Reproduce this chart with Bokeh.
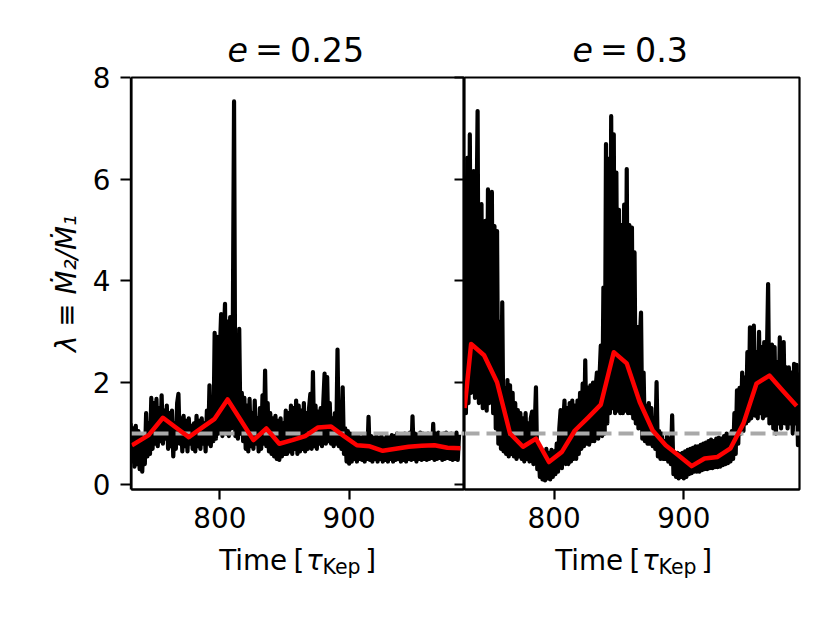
import numpy as np
from bokeh.plotting import figure
from bokeh.models import Range1d, FixedTicker, LinearAxis
from bokeh.layouts import row, column
from bokeh.core.properties import value
from bokeh.embed import file_html
from bokeh.resources import INLINE

# ---------------- data ----------------
panel_e = ["0.25", "0.3"]
x_ticks = [800, 900]
y_ticks = [0, 2, 4, 6, 8]
ref_level = 1.0

# raw accretion-rate ratio, e = 0.25 (one sample per tau_Kep from 731)
time_a = np.arange(731, 986)
lam_a = [1.20, 0.45, 1.10, 0.35, 1.15, 0.40, 1.05, 0.30, 0.95, 0.25,
         0.90, 0.40, 1.40, 0.55, 1.20, 0.60, 1.70, 0.70, 1.60, 0.80,
         1.68, 0.75, 1.50, 0.85, 1.75, 0.80, 1.45, 0.90, 1.55, 0.70,
         1.40, 0.75, 1.45, 0.55, 1.20, 0.70, 1.60, 1.78, 0.80, 1.30,
         0.65, 1.35, 0.75, 1.25, 0.65, 1.30, 0.80, 1.15, 0.70, 1.20,
         0.65, 1.35, 0.75, 1.25, 0.70, 1.30, 0.80, 1.20, 0.65, 1.45,
         0.80, 1.95, 0.75, 1.40, 0.85, 2.98, 0.90, 2.90, 1.00, 2.60,
         3.35, 0.95, 2.80, 3.55, 1.00, 3.20, 0.95, 3.29, 1.10, 2.90,
         7.53, 0.95, 2.70, 0.90, 3.06, 1.00, 1.80, 0.85, 1.70, 0.70,
         1.55, 0.65, 1.68, 0.75, 1.40, 0.70, 1.65, 0.80, 1.30, 0.65,
         1.50, 0.70, 1.75, 0.80, 2.24, 0.75, 1.60, 0.65, 1.40, 0.60,
         1.30, 0.55, 1.35, 0.50, 1.25, 0.48, 1.30, 0.55, 1.20, 0.60,
         1.45, 0.60, 1.40, 0.65, 1.55, 0.60, 1.50, 0.70, 1.65, 0.60,
         1.55, 0.65, 1.45, 0.70, 1.60, 0.65, 1.40, 0.70, 1.50, 1.78,
         0.70, 2.21, 0.75, 1.55, 0.70, 1.43, 0.80, 1.50, 0.75, 1.60,
         2.18, 0.80, 2.11, 0.85, 1.60, 0.80, 1.30, 0.75, 1.40, 0.80,
         2.65, 0.75, 1.30, 0.70, 1.91, 0.60, 1.10, 0.45, 1.05, 0.41,
         1.00, 0.45, 0.98, 0.50, 0.95, 0.45, 0.98, 0.50, 0.92, 0.48,
         0.95, 0.45, 0.95, 0.50, 1.33, 0.48, 0.95, 0.45, 0.92, 0.50,
         0.95, 0.45, 0.92, 0.50, 0.95, 0.45, 0.90, 0.48, 0.95, 0.45,
         0.92, 0.50, 0.97, 0.45, 0.95, 0.48, 1.00, 0.50, 0.95, 0.45,
         0.98, 0.48, 1.00, 0.45, 0.95, 0.50, 1.02, 0.48, 1.34, 0.50,
         1.00, 0.45, 0.98, 0.50, 1.02, 0.48, 1.00, 0.50, 0.98, 0.48,
         1.00, 0.50, 0.98, 0.52, 1.19, 0.48, 1.00, 0.50, 1.02, 0.52,
         0.98, 0.48, 1.00, 0.50, 1.02, 0.52, 0.98, 0.50, 1.00, 0.48,
         0.98, 0.50, 1.02, 0.48, 0.98]

# raw accretion-rate ratio, e = 0.3
time_b = np.arange(731, 990)
lam_b = [5.70, 1.40, 6.42, 1.60, 6.88, 1.80, 5.20, 6.16, 1.70, 4.80,
         7.34, 1.60, 4.90, 5.51, 1.50, 4.60, 5.18, 1.45, 5.80, 1.60,
         4.70, 5.75, 1.40, 5.08, 1.10, 4.98, 0.80, 3.20, 0.70, 3.58,
         0.65, 1.90, 0.60, 2.05, 0.55, 1.95, 0.60, 1.80, 0.55, 1.60,
         0.50, 1.46, 0.55, 1.40, 0.50, 1.30, 0.45, 1.40, 0.50, 1.20,
         0.45, 1.30, 1.43, 0.40, 1.10, 1.91, 0.30, 0.70, 0.15, 0.67,
         0.10, 0.65, 0.08, 0.70, 0.12, 0.62, 0.10, 0.68, 0.15, 0.65,
         0.20, 0.80, 0.25, 1.10, 1.46, 0.32, 1.20, 1.65, 0.40, 1.50,
         0.40, 1.60, 0.45, 1.65, 0.50, 1.55, 0.50, 1.65, 0.60, 1.80,
         0.70, 1.98, 0.75, 2.44, 0.80, 1.90, 0.78, 1.95, 0.85, 2.00,
         0.85, 1.90, 2.20, 0.90, 2.10, 2.73, 0.95, 3.87, 1.00, 6.69,
         1.20, 6.40, 1.40, 7.24, 1.50, 6.88, 1.40, 6.13, 1.45, 5.40,
         1.40, 5.10, 1.40, 5.50, 1.45, 6.20, 1.40, 5.10, 1.40, 5.05,
         1.30, 4.56, 1.20, 3.10, 1.10, 2.80, 3.38, 0.90, 2.20, 0.85,
         1.55, 0.80, 1.60, 0.80, 1.50, 0.75, 1.30, 0.70, 2.01, 0.55,
         1.05, 0.50, 1.00, 0.50, 0.85, 0.50, 0.95, 0.45, 0.90, 0.40,
         1.36, 0.20, 0.60, 0.15, 0.62, 0.12, 0.60, 0.15, 0.62, 0.12,
         0.65, 0.15, 0.68, 0.20, 0.70, 0.22, 0.72, 0.25, 0.75, 0.25,
         0.75, 0.25, 0.78, 0.28, 0.80, 0.30, 0.82, 0.30, 0.85, 0.32,
         0.88, 0.32, 0.85, 0.34, 0.90, 0.34, 0.92, 0.35, 0.90, 0.38,
         0.95, 0.40, 1.00, 0.42, 0.98, 0.45, 1.05, 0.50, 1.40, 0.60,
         1.85, 0.80, 1.90, 1.00, 2.20, 1.05, 2.10, 1.20, 2.60, 1.25,
         3.09, 1.30, 2.70, 3.12, 1.35, 2.60, 1.30, 3.00, 1.40, 2.70,
         1.30, 2.80, 1.35, 2.40, 3.94, 1.20, 2.60, 2.75, 1.10, 2.70,
         1.00, 2.40, 1.20, 2.89, 1.10, 2.50, 2.80, 1.20, 2.30, 1.10,
         2.30, 1.20, 2.20, 1.00, 2.37, 1.20, 2.35, 0.77, 2.20]

# binned averages (red curves)
smooth_t_a = [732, 745, 756, 766, 776, 786, 796, 806, 816, 826, 836, 846, 856,
              866, 876, 886, 896, 906, 916, 926, 936, 946, 956, 966, 976, 986]
smooth_a = [0.77, 0.97, 1.31, 1.12, 0.93, 1.11, 1.29, 1.67, 1.27, 0.87, 1.10, 0.80, 0.87,
            0.95, 1.12, 1.14, 0.95, 0.77, 0.75, 0.66, 0.70, 0.74, 0.76, 0.77, 0.72, 0.71]
smooth_t_b = [731, 736, 746, 756, 766, 776, 786, 796, 806, 816, 826, 836, 846, 856,
              866, 876, 886, 896, 906, 916, 926, 936, 946, 956, 966, 976, 987]
smooth_b = [1.50, 2.76, 2.54, 2.01, 1.00, 0.74, 0.90, 0.44, 0.64, 1.06, 1.31, 1.57, 2.60, 2.38,
            1.62, 1.06, 0.77, 0.57, 0.36, 0.51, 0.54, 0.71, 1.20, 1.98, 2.14, 1.85, 1.54]

X_RANGE_A = (731.7, 989.2)
X_RANGE_B = (730.9, 989.2)
Y_RANGE = (-0.1, 8.0)

# ---------------- style / layout ----------------
FONT = "DejaVu Sans"
TICK_SIZE = "27.8px"
TITLE_SIZE = "33.3px"
SUB_SIZE = "20.5px"
LW = 4.2
AX_W = 131            # width of the strip holding the shared y axis
W_A, W_B = 333, 345   # panel widths
TITLE_H, MAIN_H, LABEL_H = 75, 466, 53
TOTAL_H = TITLE_H + MAIN_H + LABEL_H


def style_axes(p):
    for ax in p.axis:
        ax.major_label_text_font = FONT
        ax.major_label_text_font_size = TICK_SIZE
        ax.major_label_text_color = "black"
        ax.axis_line_color = "black"
        ax.axis_line_width = 2.2
        ax.major_tick_line_width = 2.2
        ax.major_tick_line_color = "black"
        ax.major_tick_out = 10
        ax.major_tick_in = 0
        ax.minor_tick_line_color = None
    p.xgrid.grid_line_color = None
    p.ygrid.grid_line_color = None
    p.background_fill_color = "white"
    p.border_fill_color = "white"


def draw(p, t, lam, st, sm):
    p.line(t, lam, line_color="black", line_width=LW, line_join="round")
    p.hspan(y=[ref_level], line_color="#a9a9a9", line_width=LW, line_dash="15 7")
    p.line(st, sm, line_color="#ff0000", line_width=4.5, line_join="round")


def text_strip(width, height):
    f = figure(width=width, height=height, x_range=Range1d(0, width), y_range=Range1d(0, height),
               output_backend="svg", toolbar_location=None,
               x_axis_location=None, y_axis_location=None, min_border=0)
    f.outline_line_color = None
    f.grid.visible = False
    f.background_fill_color = "white"
    f.border_fill_color = "white"
    return f


def put(f, x, y, s, size, style="normal"):
    f.text(x=[x], y=[y], text=[s], text_font=value(FONT), text_font_size=value(size),
           text_font_style=style, text_color="black", text_align="left",
           text_baseline="middle")


# titles
TY = 26.5
ta = text_strip(W_A, TITLE_H)
put(ta, 96, TY, "e", TITLE_SIZE, "italic")
put(ta, 123.6, TY, "=", TITLE_SIZE)
put(ta, 158.5, TY, panel_e[0], TITLE_SIZE)
tb = text_strip(W_B, TITLE_H)
put(tb, 108, TY, "e", TITLE_SIZE, "italic")
put(tb, 135.6, TY, "=", TITLE_SIZE)
put(tb, 170.5, TY, panel_e[1], TITLE_SIZE)


def xlabel(f, x0):
    put(f, x0, 33.6, "Time", TICK_SIZE)
    put(f, x0 + 74.3, 33.6, "[", TICK_SIZE)
    put(f, x0 + 86.8, 33.6, "τ", TICK_SIZE, "italic")
    put(f, x0 + 103.3, 27.1, "Kep", SUB_SIZE)
    put(f, x0 + 146, 33.6, "]", TICK_SIZE)


la = text_strip(W_A, LABEL_H)
xlabel(la, 87.7)
lb = text_strip(W_B, LABEL_H)
xlabel(lb, 90.7)

# shared y axis (left of the first panel)
py = figure(width=AX_W, height=TOTAL_H, x_range=Range1d(0, 1), y_range=Range1d(*Y_RANGE),
            output_backend="svg", toolbar_location=None, x_axis_location=None,
            min_border_left=AX_W - 1, min_border_right=0, min_border_top=77,
            min_border_bottom=TOTAL_H - 77 - 412)
style_axes(py)
py.outline_line_color = None
yax = py.left[0]
yax.ticker = FixedTicker(ticks=y_ticks)
yax.major_label_standoff = 10
yax.axis_line_width = 1.4
yax.axis_label = "λ ≡ Ṁ₂/Ṁ₁"
yax.axis_label_text_font = FONT
yax.axis_label_text_font_size = TICK_SIZE
yax.axis_label_text_font_style = "italic"
yax.axis_label_standoff = 7
yax.axis_label_text_color = "black"

# left panel
pa = figure(width=W_A, height=MAIN_H, x_range=Range1d(*X_RANGE_A), y_range=Range1d(*Y_RANGE),
            output_backend="svg", toolbar_location=None, y_axis_location=None,
            min_border_left=0, min_border_right=0, min_border_top=2, min_border_bottom=52)
draw(pa, time_a, lam_a, smooth_t_a, smooth_a)
rax = LinearAxis(ticker=FixedTicker(ticks=y_ticks),
                 major_label_overrides={v: "" for v in y_ticks}, major_label_standoff=0)
pa.add_layout(rax, "right")
style_axes(pa)
pa.xaxis.ticker = FixedTicker(ticks=x_ticks)
pa.xaxis.major_label_standoff = 7
pa.outline_line_color = "black"
pa.outline_line_width = 2.2
rax.major_tick_out = 0
rax.major_tick_in = 10
rax.axis_line_color = None

# right panel
pb = figure(width=W_B, height=MAIN_H, x_range=Range1d(*X_RANGE_B), y_range=Range1d(*Y_RANGE),
            output_backend="svg", toolbar_location=None, y_axis_location=None,
            min_border_left=0, min_border_right=10, min_border_top=2, min_border_bottom=52)
draw(pb, time_b, lam_b, smooth_t_b, smooth_b)
style_axes(pb)
pb.xaxis.ticker = FixedTicker(ticks=x_ticks)
pb.xaxis.major_label_standoff = 7
pb.outline_line_color = "black"
pb.outline_line_width = 2.2

layout = row(py, column(row(ta, tb), row(pa, pb), row(la, lb)))
open("out.html", "w").write(file_html(layout, INLINE))
